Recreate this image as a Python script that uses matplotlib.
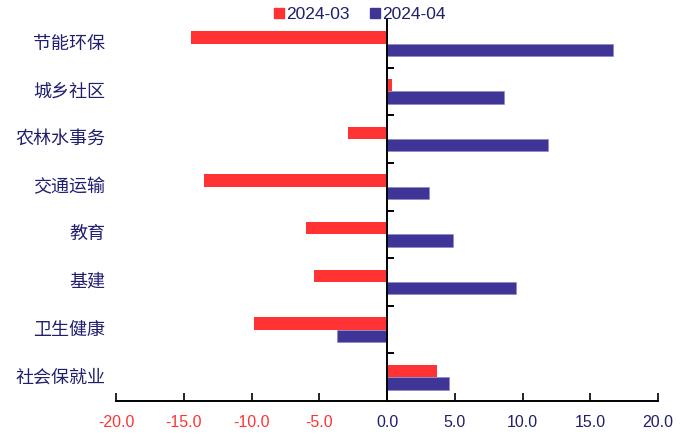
import matplotlib
matplotlib.use("Agg")
import matplotlib.pyplot as plt
from matplotlib.lines import Line2D
from matplotlib.ticker import FixedLocator

# Categories from bottom to top
categories = ["社会保就业", "卫生健康", "基建", "教育", "交通运输", "农林水事务", "城乡社区", "节能环保"]
vals_mar = [3.7, -9.8, -5.4, -6.0, -13.5, -2.9, 0.4, -14.5]
vals_apr = [4.6, -3.7, 9.5, 4.9, 3.1, 11.9, 8.6, 16.7]
series_names = ["2024-03", "2024-04"]
xticks = [-20, -15, -10, -5, 0, 5, 10, 15, 20]

red = "#FF3333"
blue = "#3F3596"
navy = "#1F1F6E"

fig = plt.figure(figsize=(6.92, 4.41), dpi=100)
ax = fig.add_axes([0.1676, 0.0907, 0.7834, 0.8639])

ypos = list(range(len(categories)))
h = 0.26
ax.barh([y + h / 2 for y in ypos], vals_mar, height=h, color=red, edgecolor="none")
ax.barh([y - h / 2 for y in ypos], vals_apr, height=h, color=blue, edgecolor="#8A84C8", linewidth=0.4)

ax.set_xlim(-20, 20)
ax.set_ylim(-0.5, len(categories) - 0.5)

# spines: vertical axis through zero, bottom axis only
ax.spines["top"].set_visible(False)
ax.spines["right"].set_visible(False)
ax.spines["left"].set_position(("data", 0))
ax.spines["left"].set_linewidth(1.4)
ax.spines["bottom"].set_linewidth(1.4)

ax.yaxis.set_major_locator(FixedLocator([]))
ax.yaxis.set_minor_locator(FixedLocator([y + 0.5 for y in ypos[:-1]]))
ax.tick_params(axis="y", which="minor", direction="in", length=5, width=1.4)

ax.set_xticks(xticks)
ax.set_xticklabels([f"{t:.1f}" for t in xticks], fontfamily="Liberation Sans", fontsize=11.5)
ax.tick_params(axis="x", direction="in", length=6, width=1.2, pad=10)
for lab, t in zip(ax.get_xticklabels(), xticks):
    lab.set_color(red if t < 0 else navy)

# category labels on the far left
for y, name in zip(ypos, categories):
    ax.text(-0.02, y, name, transform=ax.get_yaxis_transform(), ha="right", va="center",
            fontsize=13, color=navy, fontfamily="Noto Sans CJK SC")

handles = [
    Line2D([], [], marker="s", linestyle="none", color=red, markersize=6.5),
    Line2D([], [], marker="s", linestyle="none", color=blue, markersize=6.5),
]
leg = fig.legend(handles, series_names, loc="center", bbox_to_anchor=(0.52, 0.968), ncol=2,
                 frameon=False, handlelength=0.6, handletextpad=0.1, columnspacing=1.2,
                 prop={"family": "Liberation Sans", "size": 12.5}, borderpad=0)
for t in leg.get_texts():
    t.set_color(navy)

fig.savefig("out.png", dpi=100)
